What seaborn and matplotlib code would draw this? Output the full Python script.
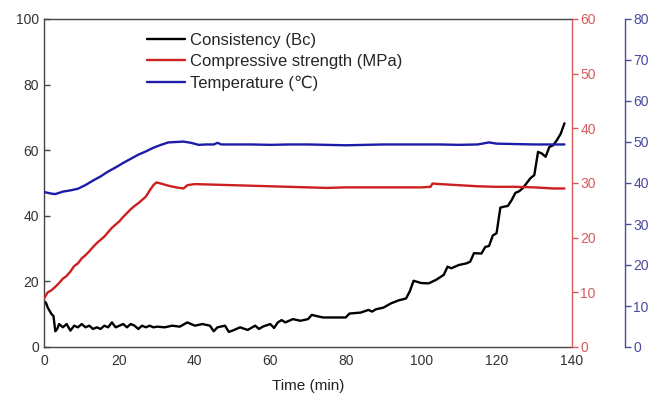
import matplotlib
matplotlib.use("Agg")
import matplotlib.pyplot as plt
import seaborn as sns
import pandas as pd

# ---- data ----
cons_t = [0, 0.5, 1, 1.5, 2, 2.5, 3, 3.5, 4, 5, 6, 7, 8, 9, 10, 11, 12, 13, 14, 15, 16, 17, 18, 19, 20,
          21, 22, 23, 24, 25, 26, 27, 28, 29, 30, 32, 34, 36, 38, 40, 42, 44, 45, 46, 48, 49, 50, 52, 54,
          56, 57, 58, 60, 61, 62, 63, 64, 66, 68, 70, 71, 72, 74, 76, 78, 80, 81, 82, 84, 86, 87, 88, 90,
          92, 94, 96, 97, 98, 100, 102, 104, 106, 107, 108, 110, 112, 113, 114, 116, 117, 118, 119, 120,
          121, 122, 123, 124, 125, 126, 127, 128, 129, 130, 131, 132, 133, 134, 135, 136, 137, 138]
cons_v = [14, 13.5, 12, 11, 10, 9.5, 4.8, 5.5, 7, 6, 7, 5, 6.5, 6, 7, 6, 6.5, 5.5, 6, 5.5, 6.5, 6, 7.5, 6, 6.5,
          7, 6, 7, 6.5, 5.5, 6.5, 6, 6.5, 6, 6.2, 6, 6.5, 6.2, 7.5, 6.5, 7, 6.5, 4.8, 6, 6.5, 4.6, 5, 6, 5.2,
          6.5, 5.5, 6.2, 7, 5.8, 7.5, 8.2, 7.5, 8.5, 8, 8.5, 9.8, 9.5, 9, 9, 9, 9, 10.2, 10.3, 10.5, 11.3, 10.8, 11.5, 12,
          13.3, 14.2, 14.8, 17, 20.2, 19.5, 19.4, 20.5, 22, 24.5, 24, 25, 25.5, 26, 28.6, 28.5, 30.5, 30.8, 34, 34.7,
          42.5, 42.8, 43, 44.8, 47, 47.5, 48.5, 50, 51.5, 52.4, 59.5, 59, 58, 61, 61.5, 63.1, 65, 68.2]

str_t = [0, 1, 2, 3, 4, 5, 6, 7, 8, 9, 10, 11, 12, 13, 14, 15, 16, 17, 18, 19, 20, 21, 22, 23, 24, 25, 26,
         27, 28, 29, 29.8, 31, 33, 35, 37, 38, 40, 45, 50, 55, 60, 65, 70, 75, 80, 90, 100, 102.5, 103, 105,
         110, 115, 120, 125, 130, 135, 138]
str_v = [8.9, 10, 10.4, 11, 11.7, 12.5, 13, 13.8, 14.8, 15.3, 16.2, 16.8, 17.5, 18.3, 19, 19.6, 20.2, 21,
         21.8, 22.4, 23, 23.8, 24.5, 25.2, 25.8, 26.3, 26.9, 27.5, 28.6, 29.6, 30.1, 29.9, 29.5, 29.2, 29.0,
         29.6, 29.8, 29.7, 29.6, 29.5, 29.4, 29.3, 29.2, 29.1, 29.2, 29.2, 29.2, 29.3, 29.9, 29.8, 29.6, 29.4,
         29.3, 29.3, 29.2, 29.0, 29.0]

temp_t = [0, 2, 3, 5, 7, 9, 11, 13, 15, 17, 19, 21, 23, 25, 27, 29, 31, 33, 35, 37, 39, 41, 43, 45, 46, 47,
          50, 55, 60, 65, 70, 75, 80, 85, 90, 95, 100, 105, 110, 115, 118, 120, 125, 130, 135, 138]
temp_v = [37.8, 37.4, 37.3, 37.9, 38.2, 38.6, 39.5, 40.6, 41.6, 42.8, 43.8, 44.9, 45.9, 46.9, 47.7, 48.6,
          49.3, 49.9, 50.0, 50.1, 49.8, 49.3, 49.4, 49.4, 49.8, 49.4, 49.4, 49.4, 49.3, 49.4, 49.4, 49.3, 49.2,
          49.3, 49.4, 49.4, 49.4, 49.4, 49.3, 49.4, 49.9, 49.6, 49.5, 49.4, 49.4, 49.4]

labels = ["Consistency (Bc)", "Compressive strength (MPa)", "Temperature (\u2103)"]
x_ticks = [0, 20, 40, 60, 80, 100, 120, 140]
left_ticks = [0, 20, 40, 60, 80, 100]
red_ticks = [0, 10, 20, 30, 40, 50, 60]
blue_ticks = [0, 10, 20, 30, 40, 50, 60, 70, 80]

# ---- style ----
sns.set_style("white")
plt.rcParams["font.family"] = ["Liberation Sans", "DejaVu Sans"]

BLACK = "#000000"
RED = "#cc1f1f"
BLUE = "#1c1ca8"
RED_AX = "#d65b5b"
BLUE_AX = "#4a4a9e"
GRAY = "#444444"

fig = plt.figure(figsize=(6.52, 3.96), dpi=100)
ax = fig.add_axes([44 / 652, 1 - 347 / 396, (572 - 44) / 652, (347 - 19) / 396])
ax2 = ax.twinx()
ax3 = ax.twinx()

df_c = pd.DataFrame({"t": cons_t, "v": cons_v})
df_s = pd.DataFrame({"t": str_t, "v": str_v})
df_T = pd.DataFrame({"t": temp_t, "v": temp_v})

sns.lineplot(data=df_c, x="t", y="v", ax=ax, color=BLACK, lw=1.7, label=labels[0], legend=False)
sns.lineplot(data=df_s, x="t", y="v", ax=ax2, color=RED, lw=1.7, label=labels[1], legend=False)
sns.lineplot(data=df_T, x="t", y="v", ax=ax3, color=BLUE, lw=1.7, label=labels[2], legend=False)

ax.set_xlim(0, 140)
ax.set_ylim(0, 100)
ax2.set_ylim(0, 60)
ax3.set_ylim(0, 80)

ax.set_xticks(x_ticks)
ax.set_yticks(left_ticks)
ax2.set_yticks(red_ticks)
ax3.set_yticks(blue_ticks)

for a in (ax, ax2, ax3):
    a.set_ylabel("")
    a.set_xlabel("")

ax.set_xlabel("Time (min)", fontsize=11, color="#222222", labelpad=8)

# spines
for s in ("left", "bottom", "top"):
    ax.spines[s].set_color(GRAY)
    ax.spines[s].set_linewidth(1.0)
ax.spines["right"].set_visible(False)

for s in ("left", "top", "bottom"):
    ax2.spines[s].set_visible(False)
    ax3.spines[s].set_visible(False)
ax2.spines["right"].set_color(RED_AX)
ax2.spines["right"].set_linewidth(1.0)
ax3.spines["right"].set_position(("axes", 1 + 53 / 528))
ax3.spines["right"].set_color(BLUE_AX)
ax3.spines["right"].set_linewidth(1.0)

ax.tick_params(axis="both", direction="in", length=4, width=1, colors=GRAY, labelsize=10, labelcolor="#333333")
ax.tick_params(axis="x", pad=5)
ax2.tick_params(axis="y", direction="out", length=4, width=1, colors=RED_AX, labelsize=10, labelcolor=RED_AX, pad=2)
ax3.tick_params(axis="y", direction="out", length=4, width=1, colors=BLUE_AX, labelsize=10, labelcolor=BLUE_AX, pad=2)

# legend
handles = []
lbls = []
for a in (ax, ax2, ax3):
    h, l = a.get_legend_handles_labels()
    handles += h
    lbls += l
fig.legend(handles, lbls, loc="upper left", bbox_to_anchor=(147 / 652, 1 - 33 / 396),
           frameon=False, fontsize=12, handlelength=2.3, handletextpad=0.3,
           labelspacing=0.38, borderpad=0, borderaxespad=0)

fig.savefig("out.png", dpi=100)
